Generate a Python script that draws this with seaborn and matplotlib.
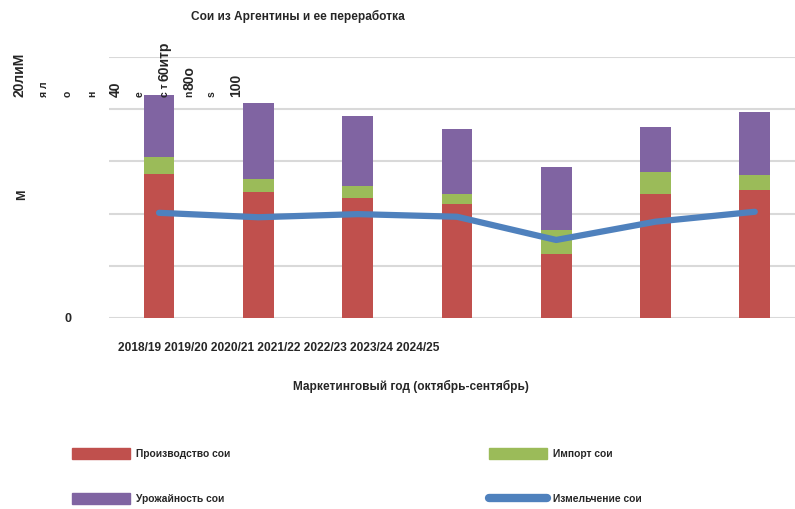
import numpy as np
import pandas as pd
import matplotlib.pyplot as plt
import seaborn as sns
from matplotlib.patches import Patch
from matplotlib.lines import Line2D

# data (million metric tons)
years = ['2018/19', '2019/20', '2020/21', '2021/22', '2022/23', '2023/24', '2024/25']
production = [55.1, 48.4, 45.9, 43.6, 24.5, 47.6, 49.0]
imports = [6.5, 5.0, 4.7, 3.8, 9.2, 8.2, 5.8]
yields = [23.8, 29.1, 26.9, 25.0, 24.0, 17.3, 24.0]
crush = [40.3, 38.6, 39.8, 38.8, 29.9, 36.9, 40.7]

legend_labels = ['Производство сои', 'Импорт сои', 'Урожайность сои', 'Измельчение сои']

df = pd.DataFrame({'year': years, 'prod': production, 'imp': imports, 'yld': yields, 'crush': crush})
df['prod_imp'] = df['prod'] + df['imp']
df['total'] = df['prod_imp'] + df['yld']

sns.set_style('white')
plt.rcParams['font.family'] = ['Liberation Sans', 'DejaVu Sans']
plt.rcParams['font.weight'] = 'bold'

red = '#c0504d'
green = '#9bbb59'
purple = '#8064a2'
blue = '#4f81bd'

W, H = 795, 509
fig = plt.figure(figsize=(W / 100, H / 100), dpi=100)
ax = fig.add_axes([109.4 / W, 1 - 318 / H, 695 / W, 261 / H])

# stacked bars: draw cumulative totals, top layer first
for col, c in [('total', purple), ('prod_imp', green), ('prod', red)]:
    sns.barplot(data=df, x='year', y=col, color=c, width=0.31, saturation=1, linewidth=0, ax=ax)
sns.lineplot(x=np.arange(len(years)), y=df['crush'], color=blue, linewidth=4.5, ax=ax)
for ln in ax.lines:
    ln.set_solid_capstyle('round')
    ln.set_solid_joinstyle('round')

ax.set_xlim(-0.5, len(years) - 0.5)
ax.set_ylim(0, 100)
ax.set_yticks([0, 20, 40, 60, 80, 100])
ax.set_yticklabels(['0', '', '', '', '', ''], fontsize=9, fontweight='bold')
ax.tick_params(axis='y', length=0, pad=27)
ax.set_xticks([])
ax.set_xlabel('')
ax.set_ylabel('')
ax.yaxis.grid(True, color='#d9d9d9', linewidth=1.5)
ax.set_axisbelow(True)
for s in ax.spines.values():
    s.set_visible(False)

# texts
fig.text(298 / W, 1 - 16 / H, 'Сои из Аргентины и ее переработка', ha='center', va='center',
         fontsize=8.6, fontweight='bold')
fig.text(118 / W, 1 - 348 / H, ' '.join(years), ha='left', va='center', fontsize=8.6, fontweight='bold')
fig.text(411 / W, 1 - 386 / H, 'Маркетинговый год (октябрь-сентябрь)', ha='center', va='center',
         fontsize=8.6, fontweight='bold')

# scrambled vertical axis title / tick labels as in the reference
pieces = [
    (20, 97, '20лиМ', 10),
    (44, 97, 'я л', 7.5),
    (68, 97, 'о', 7.5),
    (92, 97, 'н', 7.5),
    (116, 97, '40', 10),
    (140, 97, 'е', 7.5),
    (165, 97, 'с т', 7.5),
    (165, 81, '60итр', 10),
    (189, 97, 'n', 7.5),
    (189, 90, '80о', 10),
    (212, 97, 's', 7.5),
    (236, 97, '100', 10),
]
for x, y, t, fs in pieces:
    fig.text(x / W, 1 - y / H, t, rotation=90, ha='center', va='bottom', fontsize=fs, fontweight='bold')
fig.text(22 / W, 1 - 195 / H, 'M', rotation=90, ha='center', va='center', fontsize=9, fontweight='bold')

# legend
handles = [Patch(color=red), Patch(color=purple), Patch(color=green),
           Line2D([0], [0], color=blue, linewidth=6, solid_capstyle='round')]
labels = [legend_labels[0], legend_labels[2], legend_labels[1], legend_labels[3]]
fig.legend(handles, labels, ncol=2, loc='upper left', bbox_to_anchor=(72 / W, 1 - 448 / H),
           frameon=False, fontsize=7.4, handlelength=5.6, handleheight=1.3, handletextpad=0.6,
           labelspacing=3.3, columnspacing=25.2, borderpad=0, borderaxespad=0)

fig.savefig('out.png', dpi=100)
